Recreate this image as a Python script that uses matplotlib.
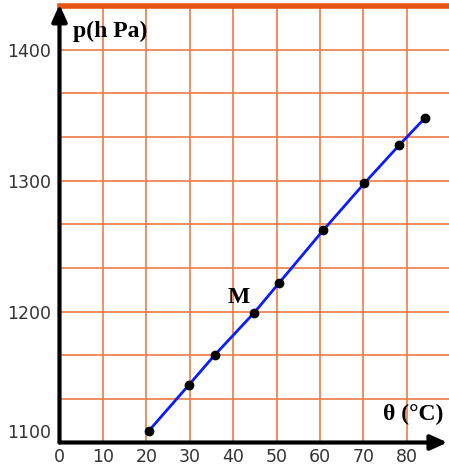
import matplotlib.pyplot as plt
import numpy as np

# données
theta = [20.6, 29.8, 35.8, 44.8, 50.6, 60.7, 70.2, 78.2, 84.2]
pression = [1109, 1144, 1167, 1199, 1222, 1262, 1298, 1327, 1348]
xticks = [0, 10, 20, 30, 40, 50, 60, 70, 80]
yticks = [1100, 1200, 1300, 1400]
grid_x = [10, 20, 30, 40, 50, 60, 70, 80, 90]
grid_y = list(1100 + np.arange(1, 11) * 100 / 3)

orange = "#ef7a45"

fig = plt.figure(figsize=(4.49, 4.70), dpi=100)
ax = fig.add_axes([59.5 / 449, 27.5 / 470, 389.5 / 449, 442.5 / 470])
ax.set_xlim(0, 89.7)
ax.set_ylim(1100, 1438)

# quadrillage
for gx in grid_x:
    ax.plot([gx, gx], [1100, grid_y[-1]], color=orange, lw=1.2, zorder=1)
for gy in grid_y[:-1]:
    ax.plot([0, 89.7], [gy, gy], color=orange, lw=1.2, zorder=1)
ax.plot([0, 89.7], [grid_y[-1], grid_y[-1]], color="#e85512", lw=4, zorder=1, clip_on=False)

# droite et points
ax.plot(theta, pression, color="#0a1cff", lw=2, zorder=3)
ax.plot(theta, pression, "o", color="black", ms=6, zorder=4)

for s in ax.spines.values():
    s.set_visible(False)

# axes fléchés
ax.annotate("", xy=(0.996, 0), xytext=(0, 0), xycoords="axes fraction",
            arrowprops=dict(arrowstyle="-|>,head_length=1.0,head_width=0.45",
                            color="black", lw=3, shrinkA=0, shrinkB=0),
            annotation_clip=False, zorder=5)
ax.annotate("", xy=(0, 0.99), xytext=(0, 0), xycoords="axes fraction",
            arrowprops=dict(arrowstyle="-|>,head_length=1.0,head_width=0.45",
                            color="black", lw=3, shrinkA=0, shrinkB=0),
            annotation_clip=False, zorder=5)

ax.set_xticks(xticks)
ax.set_yticks(yticks)
ax.tick_params(length=0, labelsize=12.5, labelcolor="#333333", pad=4)
ax.tick_params(axis="y", pad=6)
ax.get_yticklabels()[0].set_va("bottom")

serif = "Liberation Serif"
ax.text(0.034, 0.93, "p(h Pa)", transform=ax.transAxes, fontsize=17,
        fontweight="bold", family=serif, va="center", ha="left")
ax.text(0.83, 0.063, "θ (°C)", transform=ax.transAxes, fontsize=17,
        fontweight="bold", family=serif, va="center", ha="left")
ax.text(41.2, 1211, "M", fontsize=17, fontweight="bold", family=serif,
        va="center", ha="center")

fig.savefig("out.png", dpi=100)
